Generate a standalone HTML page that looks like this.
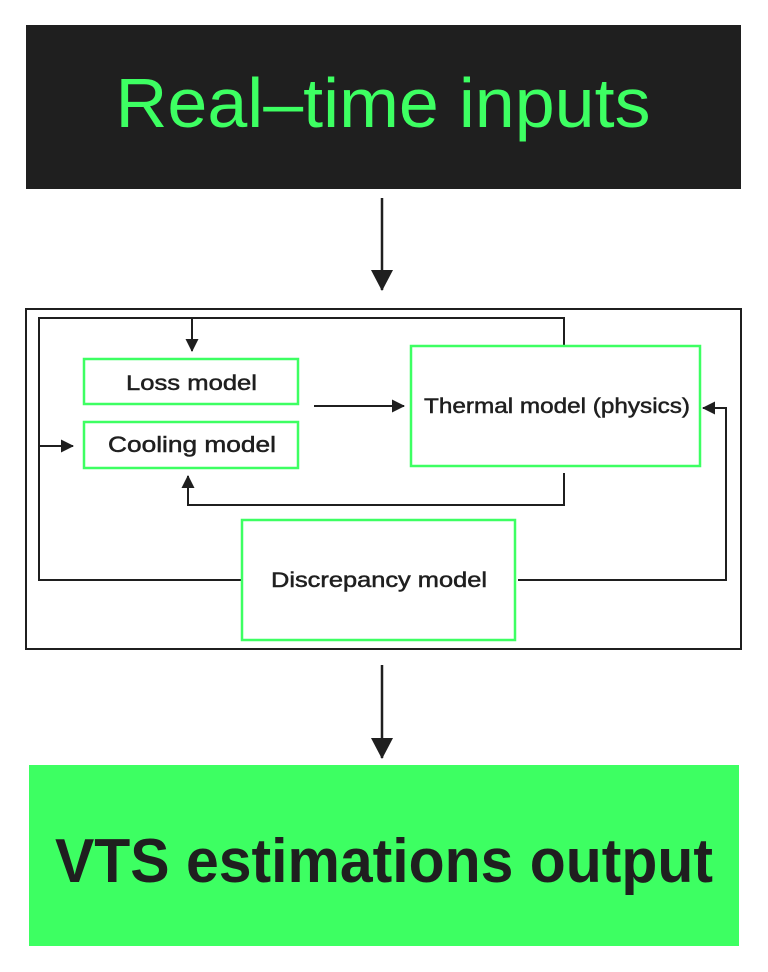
<!DOCTYPE html>
<html><head><meta charset="utf-8"><style>html,body{margin:0;padding:0;background:#fff}svg{display:block}</style></head>
<body>
<svg width="768" height="972" viewBox="0 0 768 972" xmlns="http://www.w3.org/2000/svg" font-family="Liberation Sans, sans-serif">
<defs><marker id="a" markerWidth="13" markerHeight="13" refX="12" refY="6.5" orient="auto" markerUnits="userSpaceOnUse"><path d="M0,0 L13,6.5 L0,13 z" fill="#1f1f1f"/></marker>
<marker id="b" markerWidth="22" markerHeight="22" refX="20" refY="11" orient="auto" markerUnits="userSpaceOnUse"><path d="M0,0 L21,11 L0,22 z" fill="#1f1f1f"/></marker></defs>
<rect x="26" y="25" width="715" height="164" fill="#1f1f1f"/>
<text x="383" y="127" text-anchor="middle" font-size="70" fill="#3dff62" textLength="535" lengthAdjust="spacingAndGlyphs">Real–time inputs</text>
<line x1="382" y1="198" x2="382" y2="290" stroke="#1f1f1f" stroke-width="2.5" marker-end="url(#b)"/>
<rect x="26" y="309" width="715" height="340" fill="none" stroke="#1f1f1f" stroke-width="2"/>
<g fill="none" stroke="#1f1f1f" stroke-width="2">
<polyline points="564,346 564,318 39,318 39,580 242,580"/>
<line x1="192" y1="318" x2="192" y2="351" marker-end="url(#a)"/>
<line x1="39" y1="446" x2="73" y2="446" marker-end="url(#a)"/>
<line x1="314" y1="406" x2="404" y2="406" marker-end="url(#a)"/>
<polyline points="564,473 564,505 188,505 188,476" marker-end="url(#a)"/>
<polyline points="518,580 726,580 726,408 703,408" marker-end="url(#a)"/>
</g>
<g fill="#fff" stroke="#3dff62" stroke-width="2.5">
<rect x="84" y="359" width="214" height="45"/>
<rect x="84" y="422" width="214" height="46"/>
<rect x="411" y="346" width="289" height="120"/>
<rect x="242" y="520" width="273" height="120"/>
</g>
<g font-size="21" fill="#1f1f1f" stroke="#1f1f1f" stroke-width="0.5">
<text x="126" y="390" textLength="131" lengthAdjust="spacingAndGlyphs">Loss model</text>
<text x="108" y="452" font-size="22" textLength="168" lengthAdjust="spacingAndGlyphs">Cooling model</text>
<text x="424" y="413" textLength="266" lengthAdjust="spacingAndGlyphs">Thermal model (physics)</text>
<text x="271" y="587" textLength="216" lengthAdjust="spacingAndGlyphs">Discrepancy model</text>
</g>
<line x1="382" y1="665" x2="382" y2="758" stroke="#1f1f1f" stroke-width="2.5" marker-end="url(#b)"/>
<rect x="29" y="765" width="710" height="181" fill="#3dff62"/>
<text x="384" y="882" text-anchor="middle" font-size="62" font-weight="bold" fill="#1f1f1f" textLength="658" lengthAdjust="spacingAndGlyphs">VTS estimations output</text>
</svg>
</body></html>
